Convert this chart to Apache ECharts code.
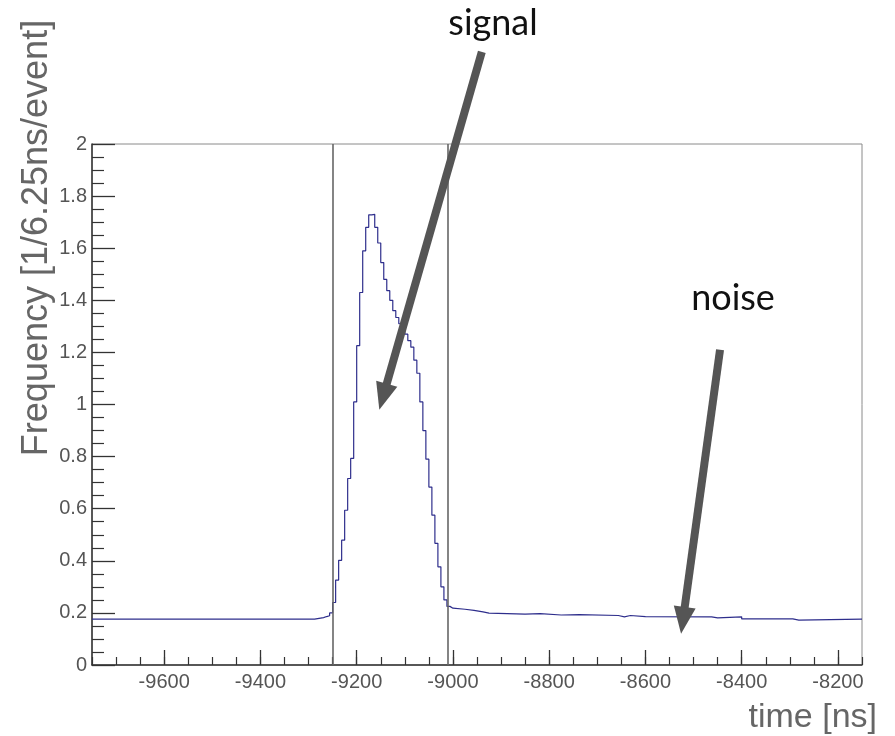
<!DOCTYPE html>
<html>
<head>
<meta charset="utf-8">
<title>time distribution</title>
<script src="https://cdn.jsdelivr.net/npm/echarts@6/dist/echarts.min.js"></script>
<style>
  html, body { margin: 0; padding: 0; background: #fff; }
  #chart { width: 895px; height: 736px; }
</style>
</head>
<body>
<div id="chart"></div>
<script>
// ── data: histogram bins (left edge in ns) and their heights ──
const binStart = [
  -9750, -9287.5, -9281.25, -9275, -9268.75, -9262.5, -9256.25,
  -9250, -9243.75, -9237.5, -9231.25, -9225, -9218.75, -9212.5, -9206.25,
  -9200, -9193.75, -9187.5, -9181.25, -9175, -9168.75, -9162.5, -9156.25,
  -9150, -9143.75, -9137.5, -9131.25, -9125, -9118.75, -9112.5, -9106.25,
  -9100, -9093.75, -9087.5, -9081.25, -9075, -9068.75, -9062.5, -9056.25,
  -9050, -9043.75, -9037.5, -9031.25, -9025, -9018.75, -9012.5, -9006.25,
  -9000, -8975, -8956.25, -8937.5, -8925, -8850, -8818.75, -8775, -8737.5,
  -8656.25, -8643.75, -8631.25, -8600, -8462.5, -8450, -8400, -8293.75, -8281.25
];
const binValue = [
  0.176, 0.178, 0.18, 0.182, 0.186, 0.189, 0.20,
  0.24, 0.326, 0.402, 0.479, 0.594, 0.716, 0.793, 1.01,
  1.226, 1.43, 1.59, 1.68, 1.728, 1.73, 1.68, 1.62,
  1.545, 1.48, 1.437, 1.40, 1.36, 1.334, 1.31, 1.29,
  1.27, 1.245, 1.22, 1.17, 1.12, 1.01, 0.90, 0.79,
  0.683, 0.575, 0.467, 0.377, 0.30, 0.25, 0.225, 0.218,
  0.214, 0.21, 0.204, 0.199, 0.195, 0.197, 0.192, 0.193, 0.19,
  0.185, 0.19, 0.186, 0.185, 0.181, 0.185, 0.177, 0.172, 0.176
];
const histEnd = -8150;

const xTicks = [-9600, -9400, -9200, -9000, -8800, -8600, -8400, -8200];
const cutLines = [-9250, -9010];   // signal window
// annotation arrows, in data coordinates (tail → tip)
const arrows = [
  { from: [-8940, 2.354], to: [-9153, 0.98] },
  { from: [-8445, 1.21],  to: [-8526, 0.12] }
];

// ── chart ──
const chart = echarts.init(document.getElementById('chart'));

const histData = binStart.map((x, i) => [x, binValue[i]]);
histData.push([histEnd, binValue[binValue.length - 1]]);

const tickFont = { fontFamily: 'Liberation Sans', fontSize: 20, color: '#555' };

chart.setOption({
  animation: false,
  backgroundColor: '#fff',
  grid: {
    left: 92, right: 33, top: 144, bottom: 71,
    show: true, borderColor: '#8a8a8a', borderWidth: 1
  },
  xAxis: [
    {
      type: 'value', min: -9750, max: histEnd,
      axisLine: { lineStyle: { color: '#333', width: 1.5 } },
      axisTick: { customValues: xTicks, inside: true, length: 15, lineStyle: { color: '#333', width: 1.3 } },
      axisLabel: { customValues: xTicks, margin: 7, formatter: v => String(v), ...tickFont },
      splitLine: { show: false }
    },
    {
      // minor ticks every 50 ns
      type: 'value', min: -9750, max: histEnd, interval: 50, position: 'bottom',
      axisLine: { show: false },
      axisTick: { inside: true, length: 8, lineStyle: { color: '#333', width: 1.2 } },
      axisLabel: { show: false },
      splitLine: { show: false }
    }
  ],
  yAxis: {
    type: 'value', min: 0, max: 2, interval: 0.2,
    axisLine: { show: true, lineStyle: { color: '#333', width: 1.5 } },
    axisTick: { show: true, inside: true, length: 23, lineStyle: { color: '#333', width: 1.3 } },
    minorTick: { show: true, splitNumber: 4, length: 12, lineStyle: { color: '#333', width: 1.2 } },
    axisLabel: { margin: 5, formatter: v => String(+v.toFixed(1)), ...tickFont },
    splitLine: { show: false }
  },
  series: [{
    type: 'line',
    step: 'end',
    symbol: 'none',
    data: histData,
    lineStyle: { color: '#2e2e8c', width: 1.2 },
    markLine: {
      silent: true,
      symbol: 'none',
      label: { show: false },
      lineStyle: { color: '#666', width: 1.6, type: 'solid' },
      data: cutLines.map(v => ({ xAxis: v }))
    }
  }]
});

// ── annotations (need the scales, so after first render) ──
const gfx = [];
arrows.forEach(a => {
  const p0 = chart.convertToPixel({ seriesIndex: 0 }, a.from);
  const p1 = chart.convertToPixel({ seriesIndex: 0 }, a.to);
  const dx = p1[0] - p0[0], dy = p1[1] - p0[1];
  const len = Math.hypot(dx, dy);
  const ux = dx / len, uy = dy / len, nx = -uy, ny = ux;
  const headL = 27, headW = 11;
  const bx = p1[0] - ux * headL, by = p1[1] - uy * headL;
  gfx.push({
    type: 'line', z: 100,
    shape: { x1: p0[0], y1: p0[1], x2: bx + ux * 3, y2: by + uy * 3 },
    style: { stroke: '#555', lineWidth: 8 }
  });
  gfx.push({
    type: 'polygon', z: 100,
    shape: { points: [[p1[0], p1[1]], [bx + nx * headW, by + ny * headW], [bx - nx * headW, by - ny * headW]] },
    style: { fill: '#555' }
  });
});
gfx.push(
  { type: 'text', x: 493, y: 23, z: 100,
    style: { text: 'signal', font: '36px Lato', fill: '#111', align: 'center', verticalAlign: 'middle' } },
  { type: 'text', x: 733, y: 298, z: 100,
    style: { text: 'noise', font: '36px Lato', fill: '#111', align: 'center', verticalAlign: 'middle' } },
  { type: 'text', x: 37, y: 238, rotation: Math.PI / 2,
    style: { text: 'Frequency [1/6.25ns/event]', font: '36px "Liberation Sans"', fill: '#666', align: 'center', verticalAlign: 'middle' } },
  { type: 'text', x: 877, y: 718,
    style: { text: 'time [ns]', font: '34px "Liberation Sans"', fill: '#666', align: 'right', verticalAlign: 'middle' } }
);
chart.setOption({ graphic: gfx });
</script>
</body>
</html>
